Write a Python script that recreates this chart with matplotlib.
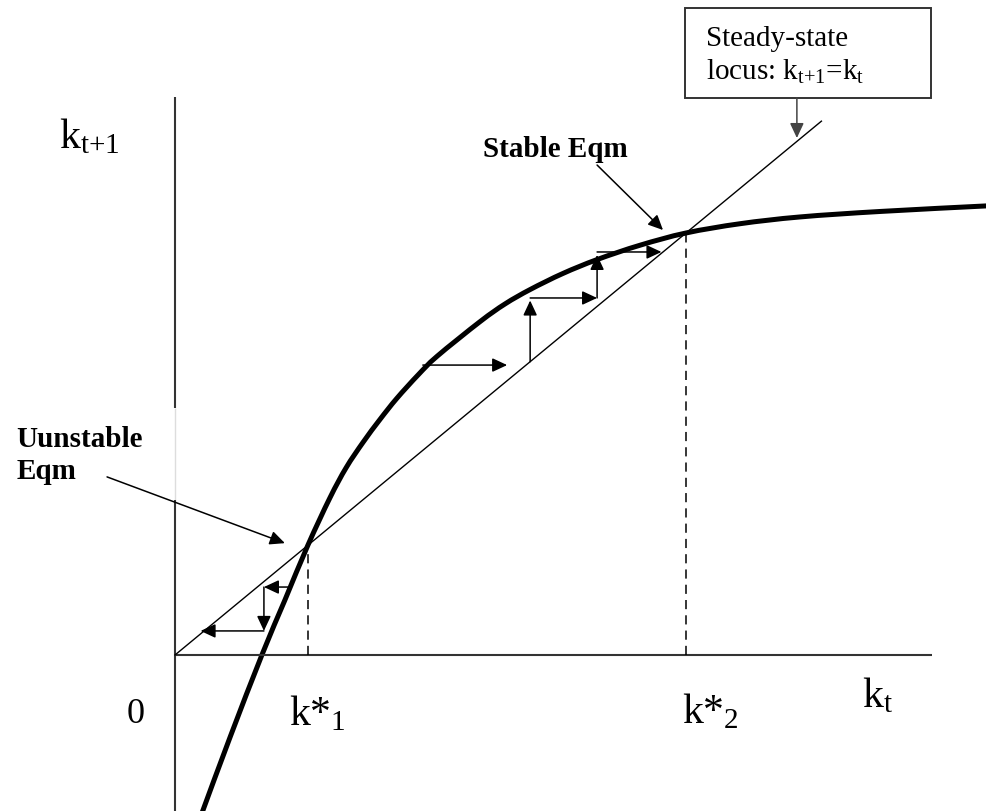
import matplotlib.pyplot as plt
from matplotlib.patches import Rectangle, PathPatch
from matplotlib.path import Path

plt.rcParams['font.family'] = ['Liberation Serif', 'DejaVu Serif']
plt.rcParams['mathtext.fontset'] = 'custom'
plt.rcParams['mathtext.rm'] = 'Liberation Serif'
plt.rcParams['mathtext.it'] = 'Liberation Serif:italic'

# k_{t+1} = f(k_t) (k*_2 set to 10)
k_t = [0.45, 0.55, 1.08, 1.70, 2.15, 2.60, 3.03, 3.35, 3.68, 4.01, 4.34, 4.76,
       5.13, 5.97, 6.46, 6.95, 7.59, 8.26, 9.10, 10.0, 11.06, 12.23, 13.80, 15.85, 16.2]
k_next = [-4.0, -3.67, -1.94, 0.0, 1.30, 2.60, 3.72, 4.44, 5.04, 5.58, 6.08, 6.64,
          7.08, 7.90, 8.32, 8.66, 9.04, 9.37, 9.71, 10.0, 10.22, 10.38, 10.51, 10.64, 10.66]

k_star = [2.60, 10.0]
star_labels = [r'k*$_{1}$', r'k*$_{2}$']
locus_end = 12.65

# staircase arrows (start, tip)
steps_low = [((2.24, 1.61), (1.74, 1.61)),
             ((1.74, 1.61), (1.74, 0.57)),
             ((1.74, 0.57), (0.50, 0.57))]
steps_high = [((4.85, 6.87), (6.50, 6.87)),
              ((6.95, 6.95), (6.95, 8.40)),
              ((6.95, 8.46), (8.26, 8.46)),
              ((8.26, 8.46), (8.26, 9.48)),
              ((8.26, 9.55), (9.52, 9.55))]


def smooth_path(xs, ys):
    # catmull-rom through the read points, drawn as cubic bezier segments
    pts = list(zip(xs, ys))
    verts = [pts[0]]
    codes = [Path.MOVETO]
    for i in range(len(pts) - 1):
        p0 = pts[max(i - 1, 0)]
        p1 = pts[i]
        p2 = pts[i + 1]
        p3 = pts[min(i + 2, len(pts) - 1)]
        c1 = (p1[0] + (p2[0] - p0[0]) / 6, p1[1] + (p2[1] - p0[1]) / 6)
        c2 = (p2[0] - (p3[0] - p1[0]) / 6, p2[1] - (p3[1] - p1[1]) / 6)
        verts += [c1, c2, p2]
        codes += [Path.CURVE4] * 3
    return Path(verts, codes)


fig = plt.figure(figsize=(9.86, 8.11), dpi=100)
ax = fig.add_axes([0, 0, 1, 1])
ax.set_xlim(-3.425, 15.871)
ax.set_ylim(-3.697, 15.521)
ax.axis('off')

axis_col = '#333333'
# axes
ax.plot([0, 0], [5.85, 13.22], color=axis_col, lw=1.5, solid_capstyle='butt')
ax.plot([0, 0], [3.67, 5.85], color='#dddddd', lw=1.0, solid_capstyle='butt')
ax.plot([0, 0], [-3.8, 3.67], color=axis_col, lw=1.5, solid_capstyle='butt')
ax.plot([0, 14.81], [0, 0], color=axis_col, lw=1.5, solid_capstyle='butt')

# 45 degree line
ax.plot([0, locus_end], [0, locus_end], color='black', lw=1.0)

# transition curve
ax.add_patch(PathPatch(smooth_path(k_t, k_next), facecolor='none',
                       edgecolor='black', lw=3.6, capstyle='butt'))

# dashed lines at the equilibria
for ks in k_star:
    ax.plot([ks, ks], [0, ks], color='black', lw=1.1, ls=(0, (6, 4)))

arrow_kw = dict(arrowstyle='-|>,head_length=0.6,head_width=0.28',
                color='black', lw=1.1, shrinkA=0, shrinkB=0, mutation_scale=15)
for start, tip in steps_low + steps_high:
    ax.annotate('', xy=tip, xytext=start, arrowprops=arrow_kw)

# labels
ax.text(-2.27, 12.01, r'k$_{\mathrm{t{+}1}}$', fontsize=30, va='baseline')
ax.text(13.44, -1.23, r'k$_{\mathrm{t}}$', fontsize=30, va='baseline')
ax.text(-0.94, -1.61, '0', fontsize=26, va='baseline')
ax.text(2.23, -1.66, star_labels[0], fontsize=30, va='baseline')
ax.text(9.92, -1.61, star_labels[1], fontsize=30, va='baseline')

# annotations
ax.text(6.03, 11.80, 'Stable Eqm', fontsize=21, fontweight='bold', va='baseline')
ax.annotate('', xy=(9.55, 10.07), xytext=(8.26, 11.61), arrowprops=arrow_kw)

ax.text(-3.11, 4.93, 'Uunstable', fontsize=21, fontweight='bold', va='baseline')
ax.text(-3.11, 4.17, 'Eqm', fontsize=21, fontweight='bold', va='baseline')
ax.annotate('', xy=(2.15, 2.65), xytext=(-1.33, 4.22), arrowprops=arrow_kw)

ax.add_patch(Rectangle((9.98, 13.20), 4.81, 2.13, fill=False,
                       edgecolor=axis_col, lw=1.4))
ax.text(10.39, 14.43, 'Steady-state', fontsize=21, va='baseline')
ax.text(10.39, 13.63, r'locus: k$_{\mathrm{t{+}1}}$=k$_{\mathrm{t}}$', fontsize=21, va='baseline')
ax.annotate('', xy=(12.17, 12.25), xytext=(12.17, 13.20),
            arrowprops=dict(arrow_kw, color='#444444'))

fig.savefig('out.png', dpi=100)
